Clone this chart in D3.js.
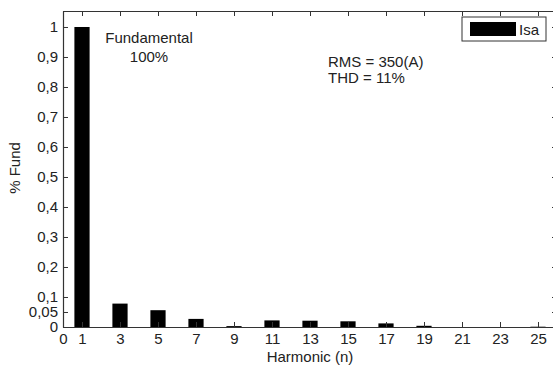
<!DOCTYPE html>
<html>
<head>
<meta charset="utf-8">
<script src="https://cdn.jsdelivr.net/npm/d3@7"></script>
<style>
  body { margin: 0; background: #fff; }
  text { font-family: "Liberation Sans", Arial, sans-serif; fill: #222; }
</style>
</head>
<body>
<div id="chart"></div>
<script>
// harmonic spectrum, values in per-unit of fundamental
var harmonics = [1, 3, 5, 7, 9, 11, 13, 15, 17, 19, 21, 23, 25];
var magnitudes = [1, 0.078, 0.056, 0.027, 0.003, 0.022, 0.021, 0.019, 0.012, 0.004, 0, 0, 0.001];
var xTicks = [0, 1, 3, 5, 7, 9, 11, 13, 15, 17, 19, 21, 23, 25];
var yTicks = [0, 0.05, 0.1, 0.2, 0.3, 0.4, 0.5, 0.6, 0.7, 0.8, 0.9, 1];

var width = 553, height = 365;
var mLeft = 63, mRight = 557, mTop = 11, mBottom = 327;
var fs = '15px';

var svg = d3.select('#chart').append('svg')
    .attr('width', width)
    .attr('height', height);

var x = d3.scaleLinear().domain([0, 26]).range([mLeft, mRight]);
var y = d3.scaleLinear().domain([0, 1.0533]).range([mBottom, mTop]);

var fmt = d => String(d).replace('.', ',');

// bars
svg.selectAll('rect.bar')
    .data(harmonics)
    .enter()
    .append('rect')
        .attr('class', 'bar')
        .attr('x', d => x(d - 0.4))
        .attr('width', x(0.8) - x(0))
        .attr('y', (d, i) => y(magnitudes[i]))
        .attr('height', (d, i) => mBottom - y(magnitudes[i]))
        .attr('fill', '#000');

// axes (ticks pointing inward, box style)
var axisColor = '#333';
var gB = svg.append('g').attr('transform', `translate(0,${mBottom})`)
    .call(d3.axisBottom(x).tickValues(xTicks).tickSizeInner(-5).tickSizeOuter(0).tickPadding(7).tickFormat(d => d));
var gT = svg.append('g').attr('transform', `translate(0,${mTop})`)
    .call(d3.axisTop(x).tickValues(xTicks).tickSizeInner(-5).tickSizeOuter(0).tickFormat(''));
var gL = svg.append('g').attr('transform', `translate(${mLeft},0)`)
    .call(d3.axisLeft(y).tickValues(yTicks).tickSizeInner(-5).tickSizeOuter(0).tickPadding(5).tickFormat(fmt));
var gR = svg.append('g').attr('transform', `translate(${mRight},0)`)
    .call(d3.axisRight(y).tickValues(yTicks).tickSizeInner(-5).tickSizeOuter(0).tickFormat(''));

[gB, gT, gL, gR].forEach(g => {
    g.selectAll('.domain').attr('stroke', axisColor).attr('stroke-width', 1.2);
    g.selectAll('.tick line').attr('stroke', axisColor);
    g.selectAll('text').style('font-size', fs).attr('fill', '#222');
});
gB.selectAll('.tick text').attr('dy', '0.66em');

// axis labels
svg.append('text')
    .attr('x', x(13))
    .attr('y', 362)
    .attr('text-anchor', 'middle')
    .style('font-size', fs)
    .text('Harmonic (n)');

svg.append('text')
    .attr('transform', 'translate(20,168) rotate(-90)')
    .attr('text-anchor', 'middle')
    .style('font-size', fs)
    .text('% Fund');

// annotations
svg.append('text').attr('x', 149).attr('y', 43).attr('text-anchor', 'middle')
    .style('font-size', fs).text('Fundamental');
svg.append('text').attr('x', 149).attr('y', 62).attr('text-anchor', 'middle')
    .style('font-size', fs).text('100%');
svg.append('text').attr('x', 328).attr('y', 67)
    .style('font-size', fs).text('RMS = 350(A)');
svg.append('text').attr('x', 328).attr('y', 83)
    .style('font-size', fs).text('THD = 11%');

// legend
var lg = svg.append('g');
lg.append('rect').attr('x', 462).attr('y', 17).attr('width', 84).attr('height', 24)
    .attr('fill', '#fff').attr('stroke', '#333');
lg.append('rect').attr('x', 470).attr('y', 22).attr('width', 46).attr('height', 14).attr('fill', '#000');
lg.append('text').attr('x', 519).attr('y', 35).style('font-size', fs).text('Isa');
</script>
</body>
</html>
